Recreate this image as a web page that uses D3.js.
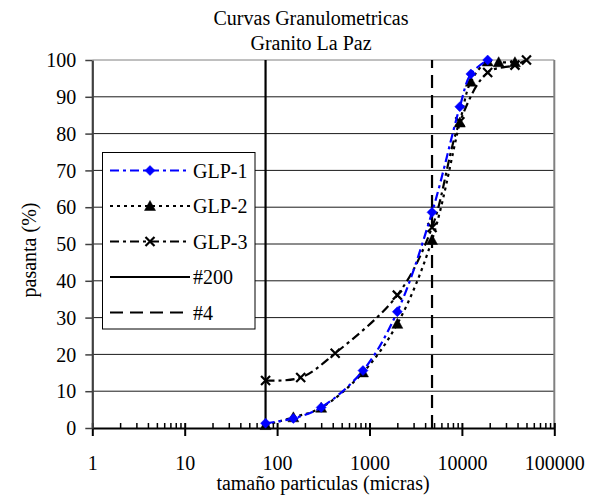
<!DOCTYPE html>
<html><head><meta charset="utf-8">
<script src="https://cdn.jsdelivr.net/npm/d3@7"></script>
<style>
html,body{margin:0;padding:0;background:#fff;}
svg{display:block;font-family:"Liberation Serif","Times New Roman",serif;}
</style></head>
<body>
<svg id="c" width="595" height="499"></svg>
<script>
// ---- data ----
const titleLines = ["Curvas Granulometricas", "Granito La Paz"];
const xLabel = "tamaño particulas (micras)";
const yLabel = "pasanta (%)";
const xTicks = [1, 10, 100, 1000, 10000, 100000];
const yTicks = [0, 10, 20, 30, 40, 50, 60, 70, 80, 90, 100];

const glp1Size = [75, 150, 300, 850, 2000, 4750, 9500, 12500, 19000];
const glp1Pass = [1.3, 2.6, 5.6, 15.6, 31.6, 58.6, 87.3, 96.2, 100];

const glp2Size = [75, 150, 300, 850, 2000, 4750, 9500, 12500, 19000, 25000, 37500];
const glp2Pass = [0.8, 2.9, 5.5, 15.1, 28.3, 51.1, 83.0, 94.1, 99.6, 99.4, 99.4];

const glp3Size = [75, 180, 425, 2000, 4750, 9500, 19000, 37500, 50000];
const glp3Pass = [12.9, 13.7, 20.3, 36.1, 54.5, 83.2, 96.6, 98.6, 100];

const sieve200 = 75;
const sieve4 = 4750;
const refPass = [0, 100];

const legendNames = ["GLP-1", "GLP-2", "GLP-3", "#200", "#4"];

// ---- chart ----
const svg = d3.select("#c");
const L = 92.3, R = 554.3, T = 60, B = 428;
const x = d3.scaleLog().domain([1, 100000]).range([L, R]);
const y = d3.scaleLinear().domain([0, 100]).range([B, T]);

const styles = {
  glp1: {color: "#0000ff", dash: "9,4,3,4", marker: "diamond"},
  glp2: {color: "#000", dash: "3,4", marker: "triangle"},
  glp3: {color: "#000", dash: "9,4,3,4", marker: "x"},
  s200: {color: "#000", dash: null},
  s4: {color: "#000", dash: "13,7"}
};

// gridlines
svg.append("g").selectAll("line").data(yTicks.filter(d => d > 0)).join("line")
  .attr("x1", L).attr("x2", R)
  .attr("y1", d => y(d)).attr("y2", d => y(d))
  .attr("stroke", d => d === 100 ? "#808080" : "#1a1a1a").attr("stroke-width", 1);
// right border
svg.append("line").attr("x1", R).attr("x2", R).attr("y1", T).attr("y2", B)
  .attr("stroke", "#808080").attr("stroke-width", 2);

// axes
const minor = [];
for (let e = 0; e < 5; e++) for (let m = 2; m <= 9; m++) minor.push(m * Math.pow(10, e));

const gxMinor = svg.append("g").attr("transform", `translate(0,${B})`)
  .call(d3.axisBottom(x).tickValues(minor).tickSize(-5).tickSizeOuter(0).tickFormat(""));
gxMinor.select(".domain").remove();
gxMinor.selectAll(".tick line").attr("stroke", "#000").attr("stroke-width", 1.5);

const gx = svg.append("g").attr("transform", `translate(0,${B})`)
  .call(d3.axisBottom(x).tickValues(xTicks).tickSize(8).tickSizeOuter(0)
    .tickPadding(16).tickFormat(d3.format("d")));
gx.select(".domain").attr("stroke", "#000").attr("stroke-width", 2.2);
gx.selectAll(".tick line").attr("y1", -5).attr("y2", 8).attr("stroke", "#000").attr("stroke-width", 2);
gx.selectAll(".tick text").attr("font-size", 20).attr("font-family", "Liberation Serif")
  .attr("fill", "#000").attr("dy", "0.9em");

const gy = svg.append("g").attr("transform", `translate(${L},0)`)
  .call(d3.axisLeft(y).tickValues(yTicks).tickSize(7).tickSizeOuter(0).tickPadding(9));
gy.select(".domain").attr("stroke", "#404040").attr("stroke-width", 2.2);
gy.selectAll(".tick line").attr("stroke", "#404040").attr("stroke-width", 1.5);
gy.selectAll(".tick text").attr("font-size", 20).attr("font-family", "Liberation Serif")
  .attr("fill", "#000").attr("dy", "0.33em");

// reference lines
function refLine(size, st) {
  svg.append("path")
    .datum(refPass.map(p => [size, p]))
    .attr("d", d3.line().x(d => x(d[0])).y(d => y(d[1])))
    .attr("stroke", st.color).attr("stroke-width", 2.2).attr("fill", "none")
    .attr("stroke-dasharray", st.dash);
}
refLine(sieve200, styles.s200);
refLine(sieve4, styles.s4);

// markers
function markerPath(type, cx, cy) {
  if (type === "diamond") return `M${cx},${cy-5}L${cx+5},${cy}L${cx},${cy+5}L${cx-5},${cy}Z`;
  if (type === "triangle") return `M${cx},${cy-5.5}L${cx+5.5},${cy+4.5}L${cx-5.5},${cy+4.5}Z`;
  return `M${cx-4.5},${cy-4.5}L${cx+4.5},${cy+4.5}M${cx+4.5},${cy-4.5}L${cx-4.5},${cy+4.5}`;
}
function drawMarker(g, type, color, cx, cy) {
  const p = g.append("path").attr("d", markerPath(type, cx, cy));
  if (type === "x") p.attr("stroke", color).attr("stroke-width", 2.2).attr("fill", "none");
  else p.attr("fill", color).attr("stroke", color).attr("stroke-width", 0.5);
}

const line = d3.line().x(d => x(d[0])).y(d => y(d[1])).curve(d3.curveCatmullRom.alpha(0.5));
function series(sizes, pass, st) {
  const data = sizes.map((s, i) => [s, pass[i]]);
  svg.append("path").datum(data).attr("d", line)
    .attr("stroke", st.color).attr("stroke-width", 2.2).attr("fill", "none")
    .attr("stroke-dasharray", st.dash);
  const g = svg.append("g");
  data.forEach(d => drawMarker(g, st.marker, st.color, x(d[0]), y(d[1])));
}
series(glp3Size, glp3Pass, styles.glp3);
series(glp2Size, glp2Pass, styles.glp2);
series(glp1Size, glp1Pass, styles.glp1);

// legend
const lg = svg.append("g");
lg.append("rect").attr("x", 102.5).attr("y", 152.5).attr("width", 152.5).attr("height", 176.5)
  .attr("fill", "#fff").attr("stroke", "#000").attr("stroke-width", 1);
const legStyles = [styles.glp1, styles.glp2, styles.glp3, styles.s200, styles.s4];
legendNames.forEach((name, i) => {
  const ly = 170.5 + i * 35.5;
  const st = legStyles[i];
  lg.append("line").attr("x1", 110).attr("x2", 190).attr("y1", ly).attr("y2", ly)
    .attr("stroke", st.color).attr("stroke-width", 2.2).attr("stroke-dasharray", st.dash);
  if (st.marker) drawMarker(lg, st.marker, st.color, 150, ly);
  lg.append("text").attr("x", 193).attr("y", ly).attr("dy", "0.35em")
    .attr("font-size", 20).text(name);
});

// titles
const tt = svg.append("text").attr("text-anchor", "middle").attr("font-size", 20);
titleLines.forEach((t, i) => tt.append("tspan").attr("x", 311).attr("y", 25 + i * 25).text(t));
svg.append("text").attr("x", 323).attr("y", 490).attr("text-anchor", "middle")
  .attr("font-size", 20).text(xLabel);
svg.append("text").attr("transform", "translate(36,250) rotate(-90)")
  .attr("text-anchor", "middle").attr("font-size", 20).text(yLabel);
</script>
</body></html>
